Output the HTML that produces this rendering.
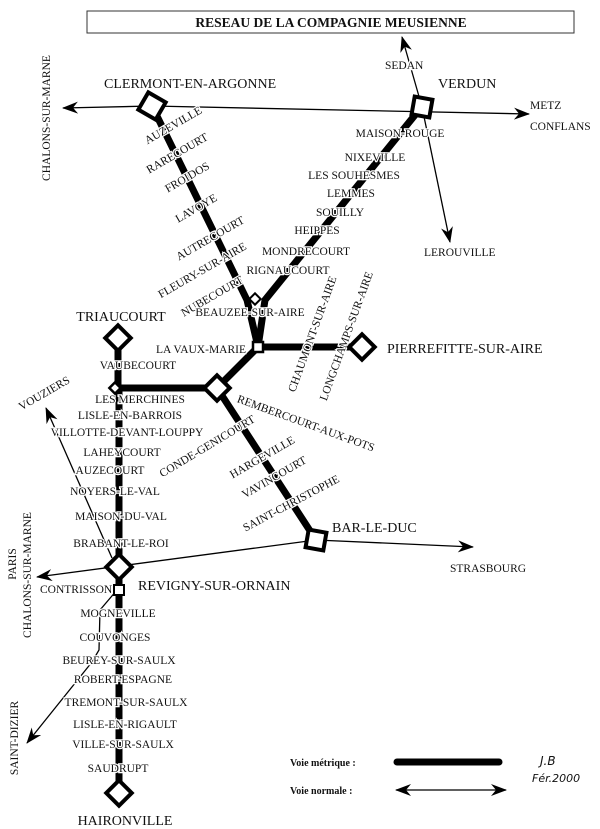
<!DOCTYPE html>
<html><head><meta charset="utf-8"><style>
html,body{margin:0;padding:0;background:#fff;}
svg{display:block;}
text{font-family:"Liberation Serif",serif;fill:#111;}
.s{font-size:11.5px;paint-order:stroke;stroke:#fff;stroke-width:2.5px;}
.b{font-size:14px;}
.m{text-anchor:middle;}
.t{stroke:#000;stroke-width:7;fill:none;}
.n{stroke:#000;stroke-width:1.3;fill:none;}
.d{fill:#fff;stroke:#000;stroke-width:4;}
</style></head><body>
<svg width="600" height="829" viewBox="0 0 600 829" xmlns="http://www.w3.org/2000/svg">
<defs><marker id="a" markerWidth="16" markerHeight="12" refX="15" refY="6" orient="auto" markerUnits="userSpaceOnUse"><path d="M0,0 L16,6 L0,12 L5,6 Z" fill="#000"/></marker></defs>
<rect x="87" y="11" width="487" height="22" fill="#fff" stroke="#333" stroke-width="1"/>
<text x="331" y="27" class="m" style="font-size:13.5px;font-weight:bold">RESEAU DE LA COMPAGNIE MEUSIENNE</text>

<!-- normal lines -->
<line class="n" x1="152" y1="106" x2="63" y2="108" marker-end="url(#a)"/>
<line class="n" x1="152" y1="106" x2="529" y2="114" marker-end="url(#a)"/>
<line class="n" x1="422" y1="107" x2="402" y2="37" marker-end="url(#a)"/>
<line class="n" x1="422" y1="107" x2="450" y2="242" marker-end="url(#a)"/>
<line class="n" x1="316" y1="540" x2="37" y2="577" marker-end="url(#a)"/>
<line class="n" x1="316" y1="540" x2="473" y2="547" marker-end="url(#a)"/>
<line class="n" x1="112" y1="558" x2="46" y2="408" marker-end="url(#a)"/>
<polyline class="n" points="117,590 100,610 99,650 92,662"/>
<line class="n" x1="92" y1="662" x2="27" y2="743" marker-end="url(#a)"/>

<!-- metric lines -->
<polyline class="t" points="155,112 247,300 258,347 217,388 316,540"/>
<polyline class="t" points="415,115 265,300 258,347"/>
<line class="t" x1="258" y1="347" x2="362" y2="347"/>
<polyline class="t" points="118,338 118,388 217,388"/>
<line class="t" x1="119" y1="388" x2="119" y2="793"/>

<!-- big labels -->
<text class="b" x="104" y="88">CLERMONT-EN-ARGONNE</text>
<text class="b" x="438" y="88">VERDUN</text>
<text class="b m" x="121" y="321">TRIAUCOURT</text>
<text class="b" x="387" y="353">PIERREFITTE-SUR-AIRE</text>
<text class="b" x="332" y="532">BAR-LE-DUC</text>
<text class="b" x="138" y="590">REVIGNY-SUR-ORNAIN</text>
<text class="b m" x="125" y="825">HAIRONVILLE</text>

<!-- small labels -->
<text class="s" x="385" y="69">SEDAN</text>
<text class="s" x="530" y="109">METZ</text>
<text class="s" x="530" y="130">CONFLANS</text>
<text class="s" x="424" y="256">LEROUVILLE</text>
<text class="s m" transform="translate(50,118) rotate(-90)">CHALONS-SUR-MARNE</text>
<text class="s m" x="173" y="129" transform="rotate(-30 173 125)">AUZEVILLE</text>
<text class="s m" x="177" y="157" transform="rotate(-30 177 153)">RARECOURT</text>
<text class="s m" x="187" y="181" transform="rotate(-30 187 177)">FROIDOS</text>
<text class="s m" x="196" y="212" transform="rotate(-30 196 208)">LAVOYE</text>
<text class="s m" x="210" y="242" transform="rotate(-30 210 238)">AUTRECOURT</text>
<text class="s m" x="202" y="274" transform="rotate(-30 202 270)">FLEURY-SUR-AIRE</text>
<text class="s m" x="212" y="300" transform="rotate(-30 212 296)">NUBECOURT</text>
<text class="s m" x="400" y="137">MAISON-ROUGE</text>
<text class="s m" x="375" y="161">NIXEVILLE</text>
<text class="s m" x="354" y="179">LES SOUHESMES</text>
<text class="s m" x="351" y="197">LEMMES</text>
<text class="s m" x="340" y="216">SOUILLY</text>
<text class="s m" x="317" y="234">HEIPPES</text>
<text class="s m" x="306" y="255">MONDRECOURT</text>
<text class="s m" x="288" y="274">RIGNAUCOURT</text>
<text class="s m" x="312" y="338" transform="rotate(-70 312 334)">CHAUMONT-SUR-AIRE</text>
<text class="s m" x="346" y="340" transform="rotate(-70 346 336)">LONGCHAMPS-SUR-AIRE</text>
<text class="s m" x="250" y="316">BEAUZEE-SUR-AIRE</text>
<text class="s" x="246" y="353" style="text-anchor:end">LA VAUX-MARIE</text>
<text class="s m" x="138" y="369">VAUBECOURT</text>
<text class="s m" x="44" y="397" transform="rotate(-30 44 393)">VOUZIERS</text>
<text class="s m" x="140" y="403">LES MERCHINES</text>
<text class="s m" x="130" y="419">LISLE-EN-BARROIS</text>
<text class="s m" x="127" y="436">VILLOTTE-DEVANT-LOUPPY</text>
<text class="s m" x="122" y="456">LAHEYCOURT</text>
<text class="s m" x="110" y="474">AUZECOURT</text>
<text class="s m" x="115" y="495">NOYERS-LE-VAL</text>
<text class="s m" x="121" y="520">MAISON-DU-VAL</text>
<text class="s m" x="121" y="547">BRABANT-LE-ROI</text>
<text class="s m" x="306" y="427" transform="rotate(20 306 423)">REMBERCOURT-AUX-POTS</text>
<text class="s m" x="207" y="450" transform="rotate(-31 207 446)">CONDE-GENICOURT</text>
<text class="s m" x="262" y="461" transform="rotate(-30 262 457)">HARGEVILLE</text>
<text class="s m" x="274" y="481" transform="rotate(-30 274 477)">VAVINCOURT</text>
<text class="s m" x="291" y="507" transform="rotate(-28 291 503)">SAINT-CHRISTOPHE</text>
<text class="s" x="450" y="572">STRASBOURG</text>
<text class="s m" transform="translate(16,564) rotate(-90)">PARIS</text>
<text class="s m" transform="translate(31,575) rotate(-90)">CHALONS-SUR-MARNE</text>
<text class="s" x="40" y="593">CONTRISSON</text>
<text class="s m" x="118" y="617">MOGNEVILLE</text>
<text class="s m" x="115" y="641">COUVONGES</text>
<text class="s m" x="119" y="664">BEUREY-SUR-SAULX</text>
<text class="s m" x="123" y="683">ROBERT-ESPAGNE</text>
<text class="s m" x="126" y="706">TREMONT-SUR-SAULX</text>
<text class="s m" x="125" y="728">LISLE-EN-RIGAULT</text>
<text class="s m" x="123" y="748">VILLE-SUR-SAULX</text>
<text class="s m" x="118" y="772">SAUDRUPT</text>
<text class="s m" transform="translate(18,738) rotate(-90)">SAINT-DIZIER</text>

<!-- stations -->
<rect class="d" x="142" y="96" width="20" height="20" transform="rotate(30 152 106)"/>
<rect class="d" x="413" y="98" width="18" height="18" transform="rotate(10 422 107)"/>
<rect class="d" x="251" y="295" width="8" height="8" transform="rotate(45 255 299)" style="stroke-width:2"/>
<rect class="d" x="253" y="342" width="10" height="10" style="stroke-width:2.5"/>
<rect class="d" x="109" y="329" width="18" height="18" transform="rotate(45 118 338)"/>
<rect class="d" x="111" y="384" width="8" height="8" transform="rotate(45 115 388)" style="stroke-width:2.5"/>
<rect class="d" x="208" y="379" width="18" height="18" transform="rotate(45 217 388)"/>
<rect class="d" x="353" y="338" width="18" height="18" transform="rotate(45 362 347)"/>
<rect class="d" x="307" y="531" width="18" height="18" transform="rotate(10 316 540)"/>
<rect class="d" x="110" y="558" width="18" height="18" transform="rotate(45 119 567)"/>
<rect x="114" y="585" width="10" height="10" fill="#fff" stroke="#000" stroke-width="2"/>
<rect class="d" x="110" y="784" width="18" height="18" transform="rotate(45 119 793)"/>

<!-- legend -->
<text x="290" y="766" style="font-size:10px;font-weight:bold">Voie métrique :</text>
<line x1="397" y1="762" x2="499" y2="762" stroke="#000" stroke-width="7" stroke-linecap="round"/>
<text x="290" y="794" style="font-size:10px;font-weight:bold">Voie normale :</text>
<line class="n" x1="450" y1="790" x2="396" y2="790" marker-end="url(#a)"/>
<line class="n" x1="450" y1="790" x2="506" y2="790" marker-end="url(#a)"/>
<text x="540" y="765" style="font-size:12px;font-family:'DejaVu Sans',sans-serif;font-style:italic">J.B</text>
<text x="532" y="782" style="font-size:11px;font-family:'DejaVu Sans',sans-serif;font-style:italic">Fér.2000</text>
</svg>
</body></html>
